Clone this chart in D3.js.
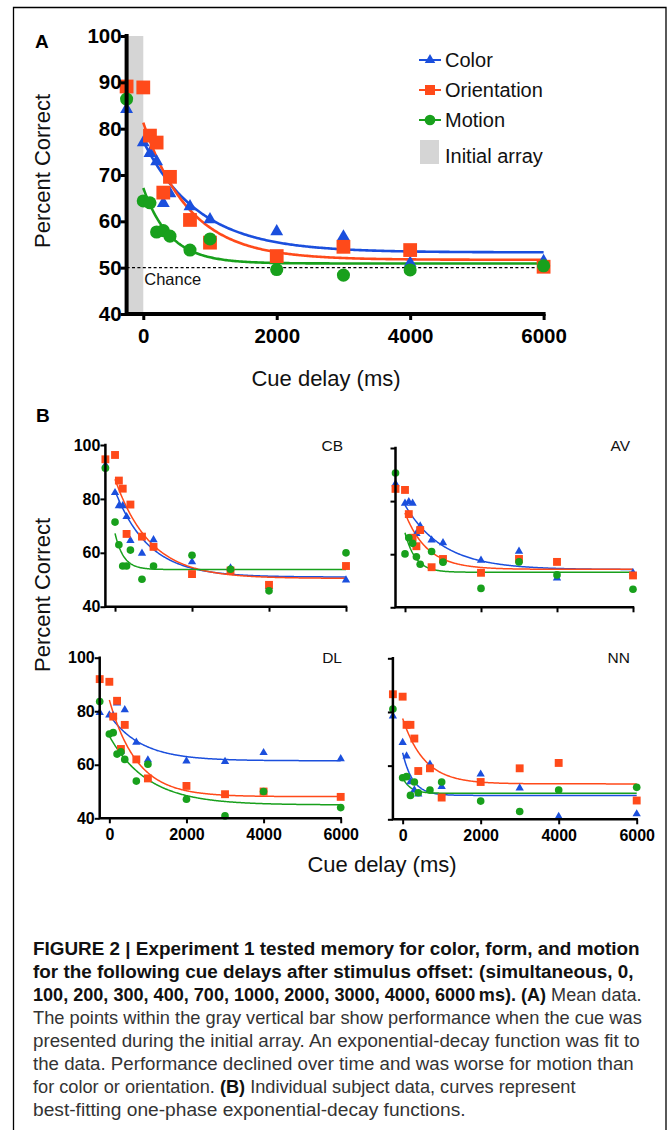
<!DOCTYPE html>
<html><head><meta charset="utf-8">
<script src="https://cdn.jsdelivr.net/npm/d3@7"></script>
<style>body{margin:0;background:#fff} svg{display:block} text{font-family:"Liberation Sans",Arial,Helvetica,sans-serif}</style>
</head><body><svg id="c" width="671" height="1130"></svg>
<script>
// ---------------- DATA ----------------
// cue delays in ms; -250 stands for "simultaneous" (cue during initial array)
const delays = [-250, 0, 100, 200, 300, 400, 700, 1000, 2000, 3000, 4000, 6000];
const xTickValues = [0, 2000, 4000, 6000];
const yTicksA = [40, 50, 60, 70, 80, 90, 100];
const yTicksB = [40, 60, 80, 100];
const seriesNames = ["Color", "Orientation", "Motion"];
const legendExtra = "Initial array";
const chanceLevel = 50;

// Panel A: mean data
const meanColor       = [84.2, 77.0, 74.7, 72.9, 63.9, 66.0, 63.2, 60.4, 57.8, 56.7, 51.0, 51.4];
const meanOrientation = [89.1, 88.9, 78.5, 77.0, 66.2, 69.6, 60.3, 55.4, 52.5, 54.5, 53.8, 50.2];
const meanMotion      = [86.4, 64.4, 64.0, 57.7, 58.0, 56.8, 53.8, 56.2, 49.6, 48.4, 49.5, 50.4];
// one-phase decay fits: [value at 0 ms, plateau, rate per ms]
const fitMeanColor       = [77.3, 53.3, 0.0012];
const fitMeanOrientation = [81.3, 51.7, 0.00145];
const fitMeanMotion      = [67.2, 50.9, 0.0025];

// Panel B: individual subjects
const subjects = ["CB", "AV", "DL", "NN"];
const cbColor       = [92.5, 82.3, 77.4, 77.4, 73.4, 64.5, 59.8, 64.8, 56.6, 54.3, 47.5, 49.9];
const cbOrientation = [94.7, 96.3, 86.8, 83.8, 67.0, 77.9, 66.0, 62.2, 52.1, 53.4, 48.1, 55.1];
const cbMotion      = [91.4, 71.4, 63.0, 55.1, 55.1, 61.0, 50.2, 55.1, 59.1, 53.9, 45.9, 60.0];
const avColor       = [86.5, 79.2, 79.7, 79.2, 67.8, 70.6, 65.3, 64.3, 57.7, 61.1, 51.0, 53.0];
const avOrientation = [84.6, 84.2, 75.1, 66.2, 63.0, 69.1, 55.1, 58.2, 53.0, 58.2, 57.1, 52.0];
const avMotion      = [90.6, 60.1, 66.2, 64.1, 59.0, 56.2, 61.0, 57.0, 47.1, 57.1, 52.2, 46.8];
const dlColor       = [79.5, 78.6, 78.3, 83.0, 65.0, 80.5, 68.4, 61.8, 61.4, 61.2, 64.5, 62.2];
const dlOrientation = [92.0, 91.0, 78.0, 83.9, 65.9, 74.9, 62.0, 54.9, 52.1, 49.0, 50.0, 48.0];
const dlMotion      = [83.6, 71.5, 72.0, 64.0, 64.8, 62.0, 53.9, 60.2, 47.1, 40.9, 50.0, 44.0];
const nnColor       = [78.5, 68.6, 63.6, 54.0, 50.9, 49.4, 60.5, 52.2, 56.8, 51.6, 41.0, 42.0];
const nnOrientation = [86.6, 85.7, 75.2, 75.2, 70.1, 58.0, 59.0, 48.1, 53.9, 59.0, 61.0, 47.0];
const nnMotion      = [81.1, 55.5, 55.9, 48.9, 53.9, 49.9, 50.9, 53.9, 46.8, 42.9, 50.9, 51.9];
const fitCbColor = [83.0, 51.0, 0.00114], fitCbOrientation = [87.3, 50.5, 0.0011], fitCbMotion = [67.2, 53.8, 0.0045];
const fitAvColor = [78.5, 54.2, 0.0010],  fitAvOrientation = [75.5, 54.3, 0.0017], fitAvMotion = [68.1, 53.2, 0.0036];
const fitDlColor = [78.6, 61.5, 0.0012],  fitDlOrientation = [84.2, 48.1, 0.0014], fitDlMotion = [70.7, 45.0, 0.0010];
const fitNnColor = [64.8, 48.9, 0.0038],  fitNnOrientation = [77.6, 53.2, 0.0018], fitNnMotion = [55.5, 49.7, 0.0050];

const captionLines = [
  [["FIGURE 2 | Experiment 1 tested memory for color, form, and motion", 1]],
  [["for the following cue delays after stimulus offset: (simultaneous, 0,", 1]],
  [["100, 200, 300, 400, 700, 1000, 2000, 3000, 4000, 6000\u2009ms). (A)", 1], [" Mean data.", 0]],
  [["The points within the gray vertical bar show performance when the cue was", 0]],
  [["presented during the initial array. An exponential-decay function was fit to", 0]],
  [["the data. Performance declined over time and was worse for motion than", 0]],
  [["for color or orientation. ", 0], ["(B)", 1], [" Individual subject data, curves represent", 0]],
  [["best-fitting one-phase exponential-decay functions.", 0]]
];

// ---------------- DRAWING ----------------
const svg = d3.select("#c");
svg.append("rect").attr("width", 671).attr("height", 1130).attr("fill", "#fff");
svg.append("path").attr("d", "M13.5,1130V7.5H666V1130").attr("fill", "none")
  .attr("stroke", "#000").attr("stroke-width", 1.3);

const colors = {Color: "#1b4fdd", Orientation: "#ff4a1a", Motion: "#18a01c"};
const symbols = {Color: d3.symbolTriangle, Orientation: d3.symbolSquare, Motion: d3.symbolCircle};

function panel(o) {
  const x = d3.scaleLinear().domain([delays[0], 6000]).range([o.left, o.right]);
  const y = d3.scaleLinear().domain([40, 100]).range([o.bottom, o.top]);
  const g = svg.append("g");
  if (o.gray) {
    g.append("rect").attr("x", x(delays[0])).attr("width", x(0) - x(delays[0]))
      .attr("y", y(100)).attr("height", y(40) - y(100)).attr("fill", "#d5d5d5");
  }
  if (o.chance) {
    g.append("line").attr("x1", x(delays[0])).attr("x2", x(6000))
      .attr("y1", y(chanceLevel)).attr("y2", y(chanceLevel))
      .attr("stroke", "#000").attr("stroke-width", 1.4).attr("stroke-dasharray", "3,2.4");
    g.append("text").attr("x", x(0) + 1).attr("y", y(chanceLevel) + 17)
      .attr("font-size", 16.5).attr("fill", "#111").text("Chance");
  }
  const line = d3.line().x(d => x(d[0])).y(d => y(d[1]));
  o.series.forEach(s => {
    const [y0, pl, k] = s.fit;
    const pts = d3.range(0, 6001, 20).map(t => [t, pl + (y0 - pl) * Math.exp(-k * t)]);
    g.append("path").datum(pts).attr("d", line).attr("fill", "none")
      .attr("stroke", colors[s.name]).attr("stroke-width", o.curveW);
  });
  o.series.forEach(s => {
    g.selectAll(null).data(s.values).join("path")
      .attr("transform", (d, i) => `translate(${x(delays[i])},${y(d)})`)
      .attr("d", d3.symbol(symbols[s.name], o.sizes[s.name]))
      .attr("fill", colors[s.name]);
  });
  // axes
  const ya = d3.axisLeft(y).tickValues(o.yTicks).tickSize(o.tick).tickPadding(o.yPad)
    .tickFormat(o.yLabels ? d3.format("d") : "");
  const gy = g.append("g").attr("transform", `translate(${x(delays[0])},0)`).call(ya);
  const xa = d3.axisBottom(x).tickValues(xTickValues).tickSize(o.tick).tickPadding(o.xPad)
    .tickFormat(o.xLabels ? d3.format("d") : "");
  const gx = g.append("g").attr("transform", `translate(0,${y(40)})`).call(xa);
  [gy, gx].forEach(a => {
    a.select(".domain").remove();
    a.attr("font-family", null).attr("font-size", null);
    a.selectAll(".tick line").attr("stroke", "#000").attr("stroke-width", o.tickW);
    a.selectAll(".tick text").attr("fill", "#000").attr("font-weight", "bold").attr("font-size", o.labelSize);
  });
  g.append("path").attr("d", `M${x(delays[0])},${y(100)}V${y(40)}H${x(6000)}`)
    .attr("fill", "none").attr("stroke", "#000").attr("stroke-width", o.axisW).attr("stroke-linecap", "square");
  if (o.label) {
    g.append("text").attr("x", o.labelX).attr("y", o.labelY).attr("text-anchor", "end")
      .attr("font-size", 15.5).attr("fill", "#111").text(o.label);
  }
}

// Panel A
panel({
  left: 126.6, right: 543.6, top: 36, bottom: 314,
  series: [
    {name: "Color", values: meanColor, fit: fitMeanColor},
    {name: "Orientation", values: meanOrientation, fit: fitMeanOrientation},
    {name: "Motion", values: meanMotion, fit: fitMeanMotion}
  ],
  sizes: {Color: 72, Orientation: 190, Motion: 135},
  gray: true, chance: true, curveW: 2.6, yTicks: yTicksA, yLabels: true, xLabels: true,
  tick: 6, yPad: -1, xPad: 8, tickW: 3, axisW: 4, labelSize: 20.5
});

// legend
const lg = svg.append("g");
const legendSizes = {Color: 48, Orientation: 100, Motion: 90};
seriesNames.forEach((n, i) => {
  const cy = 60 + i * 30;
  lg.append("line").attr("x1", 419).attr("x2", 441).attr("y1", cy).attr("y2", cy)
    .attr("stroke", colors[n]).attr("stroke-width", 2);
  lg.append("path").attr("transform", `translate(430,${cy})`)
    .attr("d", d3.symbol(symbols[n], legendSizes[n])).attr("fill", colors[n]);
  lg.append("text").attr("x", 445).attr("y", cy + 7).attr("font-size", 20).attr("fill", "#111").text(n);
});
lg.append("rect").attr("x", 420).attr("y", 140).attr("width", 19).attr("height", 24).attr("fill", "#d5d5d5");
lg.append("text").attr("x", 445).attr("y", 163).attr("font-size", 20).attr("fill", "#111").text(legendExtra);

// titles panel A
svg.append("text").attr("x", 35).attr("y", 48).attr("font-size", 19).attr("font-weight", "bold").text("A");
svg.append("text").attr("transform", "translate(50,171) rotate(-90)").attr("text-anchor", "middle")
  .attr("font-size", 22).attr("fill", "#111").text("Percent Correct");
svg.append("text").attr("x", 326).attr("y", 386).attr("text-anchor", "middle")
  .attr("font-size", 22).attr("fill", "#111").text("Cue delay (ms)");

// Panel B
const subjectData = {
  CB: [cbColor, cbOrientation, cbMotion, fitCbColor, fitCbOrientation, fitCbMotion],
  AV: [avColor, avOrientation, avMotion, fitAvColor, fitAvOrientation, fitAvMotion],
  DL: [dlColor, dlOrientation, dlMotion, fitDlColor, fitDlOrientation, fitDlMotion],
  NN: [nnColor, nnOrientation, nnMotion, fitNnColor, fitNnOrientation, fitNnMotion]
};
const boxes = {
  CB: {left: 105.4, right: 346, top: 445, bottom: 606.7, yLabels: true, xLabels: false, labelX: 343, labelY: 451},
  AV: {left: 395.5, right: 633, top: 448, bottom: 607.3, yLabels: false, xLabels: false, labelX: 630, labelY: 451},
  DL: {left: 99.7, right: 340.7, top: 657.7, bottom: 818.3, yLabels: true, xLabels: true, labelX: 342, labelY: 663},
  NN: {left: 392.9, right: 636.7, top: 658.3, bottom: 819.3, yLabels: false, xLabels: true, labelX: 630, labelY: 663}
};
subjects.forEach(s => {
  const d = subjectData[s], b = boxes[s];
  panel(Object.assign({}, b, {
    series: [
      {name: "Color", values: d[0], fit: d[3]},
      {name: "Orientation", values: d[1], fit: d[4]},
      {name: "Motion", values: d[2], fit: d[5]}
    ],
    sizes: {Color: 30, Orientation: 62, Motion: 46},
    gray: false, chance: false, curveW: 1.5, yTicks: yTicksB,
    tick: 5, yPad: 0, xPad: 5, tickW: 2, axisW: 2.5, labelSize: 16, label: s
  }));
});
svg.append("text").attr("x", 36).attr("y", 422).attr("font-size", 19).attr("font-weight", "bold").text("B");
svg.append("text").attr("transform", "translate(50,595) rotate(-90)").attr("text-anchor", "middle")
  .attr("font-size", 22).attr("fill", "#111").text("Percent Correct");
svg.append("text").attr("x", 382).attr("y", 872).attr("text-anchor", "middle")
  .attr("font-size", 22).attr("fill", "#111").text("Cue delay (ms)");

// caption
const capRight = [640, 634, 642, 642, 640, 634, 576, 466];
captionLines.forEach((segs, i) => {
  const t = svg.append("text").attr("font-size", 18.5);
  segs.forEach(([txt, b]) => t.append("tspan").text(txt)
    .attr("font-weight", b ? "bold" : "normal").attr("fill", b ? "#111" : "#333"));
  const w = t.node().getBBox().width;
  const sx = (capRight[i] - 33) / w;
  t.attr("transform", `translate(33,${955 + i * 23}) scale(${sx},1)`);
});
</script></body></html>
